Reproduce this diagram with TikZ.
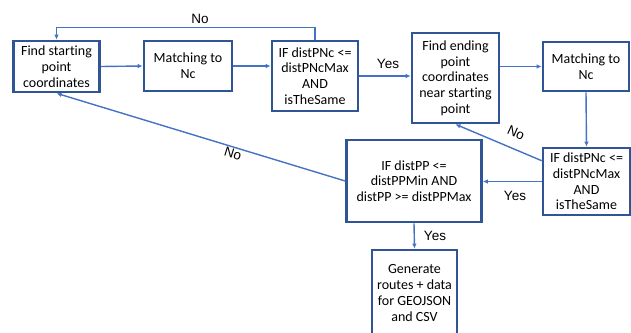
\documentclass[tikz,border=0pt]{standalone}
\usepackage{fontspec}
\setmainfont{Carlito}[Ligatures={NoCommon}]
\newfontfamily\lblfont{Liberation Sans}
\usetikzlibrary{arrows.meta,calc}
\definecolor{boxblue}{HTML}{2F5597}
\definecolor{arrblue}{HTML}{4472C4}
\tikzset{
  box/.style={draw=boxblue, line width=2.6pt, fill=white, align=center, inner sep=0pt,
    font=\fontsize{14}{15.7}\selectfont},
  conn/.style={draw=arrblue, line width=1.4pt, -{Latex[length=5pt,width=4.5pt]}},
  lbl/.style={font=\lblfont\fontsize{13.5}{16}\selectfont, inner sep=0pt}
}
\begin{document}
\begin{tikzpicture}[x=1pt,y=-1pt]
\useasboundingbox (0,0) rectangle (631,332);
\node[box, minimum width=86pt, minimum height=51pt] (b1) at (56.5,66.5) {Find starting\\point\\coordinates};
\node[box, minimum width=88pt, minimum height=50pt] (b2) at (188,66) {Matching to\\Nc};
\node[box, minimum width=86pt, minimum height=70pt] (b3) at (315,76) {IF distPNc <=\\distPNcMax\\AND\\isTheSame};
\node[box, minimum width=87pt, minimum height=90pt] (b4) at (455.5,78) {Find ending\\point\\coordinates\\near starting\\point};
\node[box, minimum width=86pt, minimum height=49pt] (b5) at (586,66.5) {Matching to\\Nc};
\node[box, minimum width=87pt, minimum height=67pt] (b6) at (586.5,181.5) {IF distPNc <=\\distPNcMax\\AND\\isTheSame};
\node[box, minimum width=135pt, minimum height=82pt] (b7) at (414,181) {IF distPP <=\\distPPMin AND\\distPP >= distPPMax};
\node[box, minimum width=85pt, minimum height=86pt] (b8) at (414.5,293) {Generate\\routes + data\\for GEOJSON\\and CSV};

\draw[conn] (b1.east) -- (b2.west);
\draw[conn] (b2.east) -- (b2.east -| b3.west);
\draw[conn] (b3.north) -- ++(0,-12) -| (b1.north);
\draw[conn] (b3.east) -- (b3.east -| b4.west);
\draw[conn] (b5.west -| b4.east) -- (b5.west);
\draw[conn] (b5.south) -- (b6.north);
\draw[conn] (b6.west) -- (b6.west -| b7.east);
\coordinate (b6no) at ($(b6.north west)+(0,14)$);
\draw[conn] (b6no) -- (b4.south);
\draw[conn] (b7.west) -- (b1.south);
\draw[conn] (b7.south) -- (b8.north);

\node[lbl] (l1) at (200,19) {No};
\node[lbl] (l2) at (388,64) {Yes};
\node[lbl, rotate=-24] (l3) at (516,133) {No};
\node[lbl] (l4) at (515,196) {Yes};
\node[lbl, rotate=-17] (l5) at (233,154) {No};
\node[lbl] (l6) at (435,236) {Yes};
\end{tikzpicture}
\end{document}
